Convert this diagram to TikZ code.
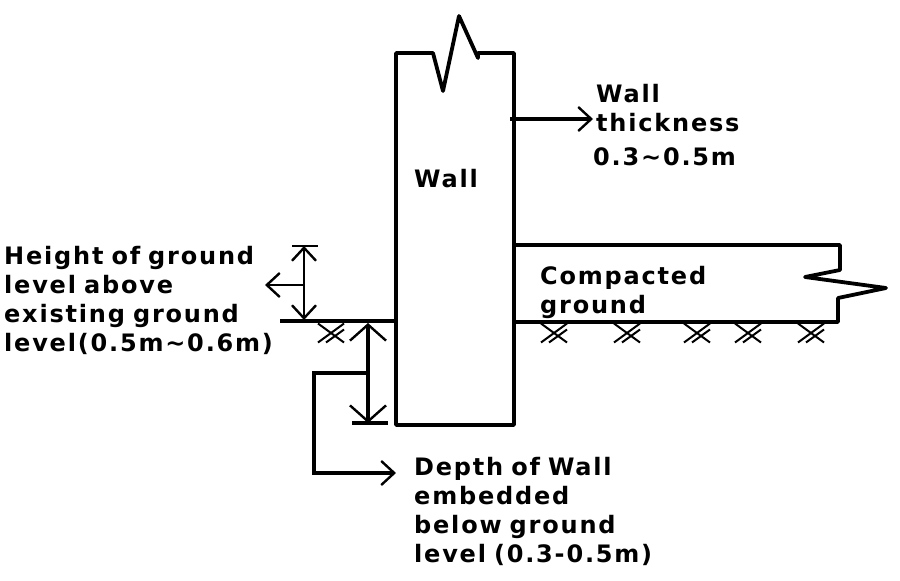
\documentclass[tikz,border=0pt]{standalone}
\usepackage{fontspec}
\setmainfont{DejaVu Sans}[LetterSpace=7.5]
\usetikzlibrary{arrows.meta}
\tikzset{
    label text/.style={inner sep=0pt, anchor=west, align=left, text width=320, font=\fontsize{24}{29}\selectfont\bfseries},
    heavy/.style={line width=3.8pt},
    light/.style={line width=2.6pt},
    barb/.tip={Straight Barb[length=13pt, width=24pt, line width=2.4pt]},
    wide barb/.tip={Straight Barb[length=16pt, width=36pt, line width=2.4pt]},
    hatch/.pic={
        \draw[line width=2pt] (-13, -9.5) -- (13, 9.5);
        \draw[line width=2pt] (-13, 9.5) -- (13, -9.5);
        \draw[line width=2pt] (-5, 9.5) -- (13, -3.5);
    }
}
\begin{document}
\begin{tikzpicture}[x=1pt, y=-1pt]
    \useasboundingbox (0, 0) rectangle (900, 581);

    \draw[heavy, line join=round] (433, 53) -- (443, 91) -- (459, 16) -- (478, 58) -- (478, 53) -- (514, 53) -- (514, 425) -- (396, 425) -- (396, 53) -- cycle;
    \draw[heavy, line join=round] (514, 245) -- (840, 245) -- (840, 270) -- (805, 277) -- (886, 288) -- (838, 298) -- (838, 322) -- (514, 322);
    \draw[heavy] (280, 321) -- (396, 321);

    \node[label text] (wall) at (414, 179) {Wall};
    \node[label text] (thickness) at (596, 108) {Wall\\thickness};
    \node[label text] (range) at (593, 157) {0.3\textasciitilde0.5m};
    \node[label text] (compacted) at (540, 292) {Compacted\\ground};
    \node[label text] (height) at (4, 300) {Height of ground\\level above\\existing ground\\level(0.5m\textasciitilde0.6m)};
    \node[label text] (depth) at (414, 511) {Depth of Wall\\embedded\\below ground\\level (0.3-0.5m)};

    \coordinate (wall inner) at (510, 119);
    \coordinate (thick end) at (593, 119);
    \draw[heavy, -barb] (wall inner) -- (thick end);

    % height of ground level
    \coordinate (top mark) at (304, 246);
    \coordinate (low mark) at (304, 320);
    \coordinate (mid mark) at (304, 285);
    \coordinate (left end) at (265, 285);
    \draw[light] (292, 246) -- (318, 246);
    \draw[light, barb-barb] (top mark) -- (low mark);
    \draw[light, -barb] (mid mark) -- (left end);

    % depth below ground
    \coordinate (depth top) at (368, 323);
    \coordinate (depth low) at (368, 423);
    \coordinate (depth mid) at (368, 373);
    \coordinate (depth end) at (396, 473);
    \draw[heavy] (352, 423) -- (388, 423);
    \draw[heavy, wide barb-wide barb] (depth top) -- (depth low);
    \draw[heavy, -barb] (depth mid) -| (314, 473) -- (depth end);

    \foreach \hx in {331, 554, 627, 697, 748, 811}
        \pic at (\hx, 333) {hatch};
\end{tikzpicture}
\end{document}
